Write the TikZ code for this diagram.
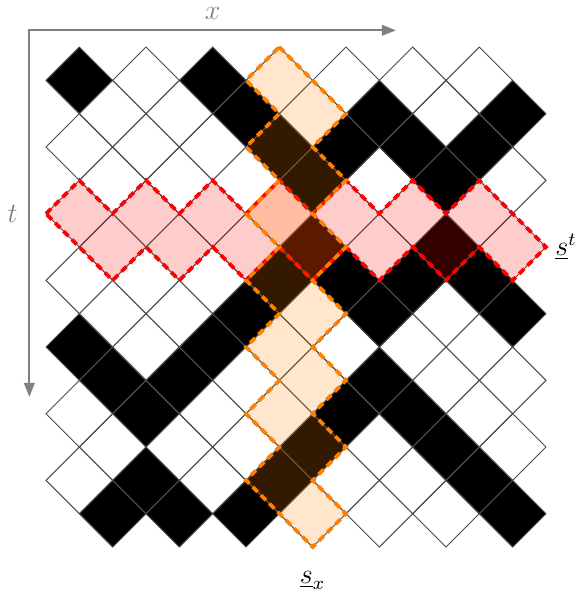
\documentclass[tikz,border=0pt]{standalone}
\usetikzlibrary{arrows.meta}
\tikzset{
  cell/.style={draw=black!70, line width=0.4pt},
  blackcell/.style={fill=black},
  redband/.style={draw=red, line width=1.6pt, dash pattern=on 3pt off 2pt, fill=red, fill opacity=0.2, draw opacity=1},
  orangeband/.style={draw=orange, line width=1.6pt, dash pattern=on 3pt off 2pt, fill=orange, fill opacity=0.2, draw opacity=1},
  axis/.style={draw=gray, line width=0.9pt, {Triangle[length=6pt,width=4.5pt]}-{Triangle[length=6pt,width=4.5pt]}},
  axislabel/.style={text=gray, font=\large},
  bandlabel/.style={font=\large}
}
\begin{document}
\begin{tikzpicture}[x=0.5cm,y=-0.5cm]
\useasboundingbox (-1.38,-1.41) rectangle (15.99,16.35);
% black cells
\foreach \i/\j in {1/1,5/1, 6/2,10/2,14/2, 7/3,9/3,11/3,13/3, 8/4,12/4, 8/6,12/6,
  7/7,9/7,11/7,13/7, 6/8,10/8,14/8, 1/9,5/9, 2/10,4/10,10/10, 3/11,9/11,11/11,
  8/12,12/12, 3/13,7/13,13/13, 2/14,4/14,6/14,14/14}
  \fill[blackcell] (\i-1,\j) -- (\i,\j-1) -- (\i+1,\j) -- (\i,\j+1) -- cycle;
% grid
\foreach \j in {1,3,...,13}
  \foreach \i in {1,3,...,13}
    \draw[cell] (\i-1,\j) -- (\i,\j-1) -- (\i+1,\j) -- (\i,\j+1) -- cycle;
\foreach \j in {2,4,...,14}
  \foreach \i in {2,4,...,14}
    \draw[cell] (\i-1,\j) -- (\i,\j-1) -- (\i+1,\j) -- (\i,\j+1) -- cycle;
% red band (row)
\draw[redband] (0,5) -- (1,4) -- (2,5) -- (3,4) -- (4,5) -- (5,4) -- (6,5) -- (7,4)
  -- (8,5) -- (9,4) -- (10,5) -- (11,4) -- (12,5) -- (13,4) -- (15,6)
  -- (14,7) -- (13,6) -- (12,7) -- (11,6) -- (10,7) -- (9,6) -- (8,7) -- (7,6)
  -- (6,7) -- (5,6) -- (4,7) -- (3,6) -- (2,7) -- cycle;
% orange band (column)
\draw[orangeband] (7,0) -- (9,2) -- (8,3) -- (9,4) -- (8,5) -- (9,6) -- (8,7) -- (9,8)
  -- (8,9) -- (9,10) -- (8,11) -- (9,12) -- (8,13) -- (9,14) -- (8,15)
  -- (6,13) -- (7,12) -- (6,11) -- (7,10) -- (6,9) -- (7,8) -- (6,7) -- (7,6)
  -- (6,5) -- (7,4) -- (6,3) -- (7,2) -- (6,1) -- cycle;
% axes
\coordinate (tend) at (-0.5,10.5);
\coordinate (corner) at (-0.5,-0.5);
\coordinate (xend) at (10.5,-0.5);
\draw[axis] (tend) -- (corner) -- (xend);
\node[axislabel] (xlab) at (5,-1) {$x$};
\node[axislabel] (tlab) at (-1,5) {$t$};
\node[bandlabel] (st) at (15.6,6) {$\underline{s}^t$};
\node[bandlabel] (sx) at (8,16) {$\underline{s}_x$};
\end{tikzpicture}
\end{document}
